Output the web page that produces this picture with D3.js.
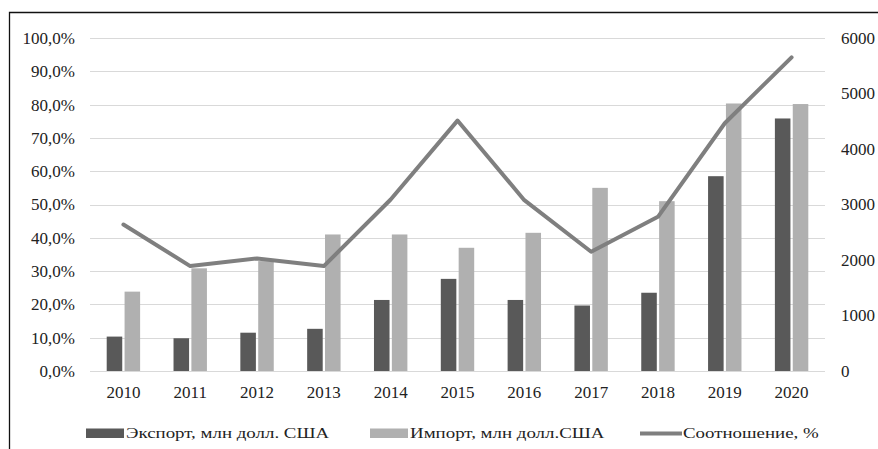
<!DOCTYPE html>
<html>
<head>
<meta charset="utf-8">
<script src="https://cdn.jsdelivr.net/npm/d3@7"></script>
<style>
  body { margin: 0; background: #fff; }
  svg text { font-family: "Liberation Serif", "Times New Roman", serif; fill: #222; }
</style>
</head>
<body>
<svg id="chart"></svg>
<script>
// data
var years = ["2010","2011","2012","2013","2014","2015","2016","2017","2018","2019","2020"];
var exportVals = [620, 590, 690, 760, 1280, 1660, 1280, 1180, 1410, 3510, 4550];
var importVals = [1430, 1850, 1980, 2460, 2460, 2220, 2490, 3300, 3060, 4820, 4810];
var ratioVals = [44.0, 31.5, 33.8, 31.5, 51.5, 75.2, 51.3, 35.8, 46.3, 74.4, 94.2];
var leftTicks = [0,10,20,30,40,50,60,70,80,90,100];
var rightTicks = [0,1000,2000,3000,4000,5000,6000];
var seriesNames = ["Экспорт, млн долл. США", "Импорт, млн долл.США", "Соотношение, %"];

var width = 878, height = 449;
var marginLeft = 90, marginRight = 825, marginTop = 38, marginBottom = 371;

var colExport = "#595959", colImport = "#b0b0b0", colLine = "#7f7f7f";

var svg = d3.select("#chart")
    .attr("width", width)
    .attr("height", height);

//frame around the chart (left and top edges only are visible)
svg.append("path")
    .attr("d", "M9.5," + height + "V12.5H" + width)
    .style("fill", "none")
    .style("stroke", "#111")
    .style("stroke-width", 1.3);

//scales
var x0 = d3.scaleBand()
    .domain(years)
    .range([marginLeft, marginRight])
    .paddingInner(0.5)
    .paddingOuter(0.25);

var x1 = d3.scaleBand()
    .domain(["exp","imp"])
    .range([0, x0.bandwidth()])
    .paddingInner(0.13);

var yLeft = d3.scaleLinear()
    .domain([0, 100])
    .range([marginBottom, marginTop]);

var yRight = d3.scaleLinear()
    .domain([0, 6000])
    .range([marginBottom, marginTop]);

//gridlines
svg.append("g")
    .selectAll("line")
    .data(leftTicks)
    .enter()
    .append("line")
    .attr("x1", marginLeft)
    .attr("x2", marginRight)
    .attr("y1", function(d){ return Math.round(yLeft(d)) + 0.5; })
    .attr("y2", function(d){ return Math.round(yLeft(d)) + 0.5; })
    .style("stroke", "#d9d9d9")
    .style("stroke-width", 1);

//left axis labels
svg.append("g")
    .selectAll("text")
    .data(leftTicks)
    .enter()
    .append("text")
    .attr("x", 75)
    .attr("y", function(d){ return yLeft(d); })
    .attr("dy", ".35em")
    .attr("text-anchor", "end")
    .style("font-size", "17px")
    .text(function(d){ return d.toFixed(1).replace(".", ",") + "%"; });

//right axis labels
svg.append("g")
    .selectAll("text")
    .data(rightTicks)
    .enter()
    .append("text")
    .attr("x", 841)
    .attr("y", function(d){ return yRight(d); })
    .attr("dy", ".35em")
    .attr("text-anchor", "start")
    .style("font-size", "17px")
    .text(function(d){ return d; });

//year labels
svg.append("g")
    .selectAll("text")
    .data(years)
    .enter()
    .append("text")
    .attr("x", function(d){ return x0(d) + x0.bandwidth()/2; })
    .attr("y", 398)
    .attr("text-anchor", "middle")
    .style("font-size", "17px")
    .text(function(d){ return d; });

//bars
var groups = svg.append("g")
    .selectAll("g")
    .data(years)
    .enter()
    .append("g")
    .attr("transform", function(d){ return "translate(" + x0(d) + ",0)"; });

groups.append("rect")
    .attr("x", x1("exp"))
    .attr("y", function(d, i){ return yRight(exportVals[i]); })
    .attr("width", x1.bandwidth())
    .attr("height", function(d, i){ return marginBottom - yRight(exportVals[i]); })
    .attr("fill", colExport);

groups.append("rect")
    .attr("x", x1("imp"))
    .attr("y", function(d, i){ return yRight(importVals[i]); })
    .attr("width", x1.bandwidth())
    .attr("height", function(d, i){ return marginBottom - yRight(importVals[i]); })
    .attr("fill", colImport);

//ratio line
var line = d3.line()
    .x(function(d, i){ return x0(years[i]) + x0.bandwidth()/2; })
    .y(function(d){ return yLeft(d); })
    .curve(d3.curveLinear);

svg.append("path")
    .datum(ratioVals)
    .attr("d", line)
    .style("fill", "none")
    .style("stroke", colLine)
    .style("stroke-width", 4)
    .style("stroke-linejoin", "round")
    .style("stroke-linecap", "round");

//legend (text in the picture is wide, so it is stretched a bit)
var legend = svg.append("g");
var legendX = [86, 370, 640];
var legendY = 438;

legend.selectAll("rect")
    .data([colExport, colImport])
    .enter()
    .append("rect")
    .attr("x", function(d, i){ return legendX[i]; })
    .attr("y", legendY - 9.5)
    .attr("width", 38)
    .attr("height", 9.5)
    .attr("fill", function(d){ return d; });

legend.append("line")
    .attr("x1", legendX[2])
    .attr("x2", legendX[2] + 42)
    .attr("y1", legendY - 4.5)
    .attr("y2", legendY - 4.5)
    .style("stroke", colLine)
    .style("stroke-width", 4);

legend.selectAll("text")
    .data(seriesNames)
    .enter()
    .append("text")
    .attr("transform", function(d, i){
        var tx = i < 2 ? legendX[i] + 40 : legendX[2] + 43;
        return "translate(" + tx + "," + legendY + ") scale(1.26,1)";
    })
    .style("font-size", "15px")
    .text(function(d){ return d; });
</script>
</body>
</html>
